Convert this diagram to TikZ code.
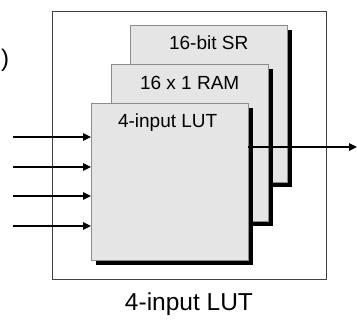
\documentclass[tikz,border=0pt]{standalone}
\usepackage{fontspec}
\setmainfont{Liberation Sans}
\usetikzlibrary{arrows.meta,shadows}

\begin{document}
\begin{tikzpicture}[x=1pt, y=-1pt,
    layer/.style={draw=gray!90, fill=gray!20, anchor=north west, inner sep=0pt,
        minimum width=157pt, minimum height=157pt,
        drop shadow={shadow xshift=5pt, shadow yshift=-5pt, fill=black, opacity=1}},
    layertext/.style={font=\fontsize{19}{22}\selectfont, anchor=base},
    sig/.style={line width=1.1pt, -{Triangle[length=8pt, width=7.5pt]}}
]
    \useasboundingbox (0,0) rectangle (357,320);

    % Cut-off text at the left
    \node[font=\fontsize{24}{28}\selectfont, anchor=base] (cut) at (5,67) {)};

    % Outer frame
    \node[draw=black!75, line width=0.7pt, anchor=north west, inner sep=0pt,
        minimum width=274pt, minimum height=268pt] (clb) at (52,11) {};

    % Stacked layers, back to front
    \node[layer] (sr) at (130,25) {};
    \node[layertext] (srtext) at ([yshift=-25pt]sr.north) {16-bit SR};

    \node[layer] (ram) at (111,64) {};
    \node[layertext] (ramtext) at ([yshift=-26pt]ram.north) {16 x 1 RAM};

    \node[layer] (lut) at (91,103) {};
    \node[layertext] (luttext) at ([xshift=-2pt, yshift=-25pt]lut.north) {4-input LUT};

    % Inputs
    \foreach \y [count=\i] in {137,167,196,226} {
        \coordinate (in\i) at (13,\y);
        \draw[sig] (in\i) -- (lut.west |- in\i);
    }

    % Output
    \coordinate (out) at (357,147);
    \draw[sig] (lut.east |- out) -- (out);

    % Caption
    \node[font=\fontsize{24.5}{28}\selectfont, anchor=base] (caption) at (189,311) {4-input LUT};
\end{tikzpicture}
\end{document}
